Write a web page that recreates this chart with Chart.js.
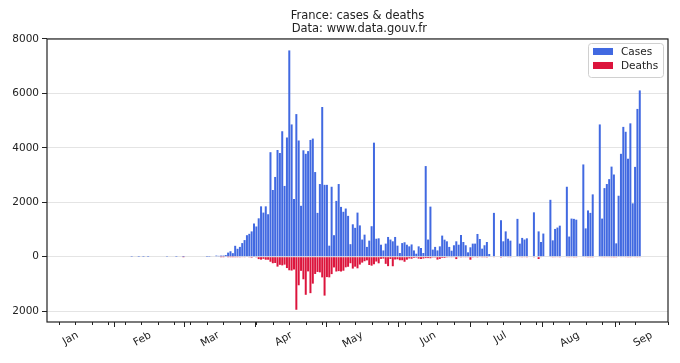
<!DOCTYPE html>
<html>
<head>
<meta charset="utf-8">
<script src="https://cdn.jsdelivr.net/npm/chart.js@4.4.0/dist/chart.umd.min.js"></script>
<style>
html,body{margin:0;padding:0;background:#fff;}
</style>
</head>
<body>
<canvas id="chart" width="680" height="363"></canvas>
<script>
// day 0 = 1 Jan 2020
var MONTHS = ['Jan','Feb','Mar','Apr','May','Jun','Jul','Aug','Sep'];
var MONTH_START = [0,31,60,91,121,152,182,213,244];
var Y_TICKS = [-2000,0,2000,4000,6000,8000];

// daily new cases, one array per month (null = no report)
var casesJan = [0,0,0,0,0,0,0,0,0,0,0,0,0,0,0,0,0,0,0,0,0,0,0,3,0,0,1,0,1,0,1];
var casesFeb = [0,0,0,0,0,0,0,5,0,0,0,1,0,0,1,0,0,0,0,0,0,0,0,0,2,4,20,19,40];
var casesMar = [30,40,40,60,150,200,130,400,290,360,500,610,790,840,930,1220,1110,1410,1850,1620,1850,1560,3840,2450,2930,3920,3810,4610,2600,4380,7580];
var casesApr = [4860,2120,5240,4270,1870,3910,3780,3880,4290,4340,3110,1610,2670,5500,2640,2640,405,2570,790,2050,2670,1830,1650,1770,1500,460,1190,1060,1620,1150];
var casesMay = [630,810,360,590,1120,4190,660,675,440,230,480,725,630,565,725,405,135,500,530,440,380,450,230,110,380,320,135,3330,630,1840,260];
var casesJun = [360,230,380,775,625,565,360,220,420,565,440,800,540,420,160,345,480,480,835,650,295,420,540,100,null,1610,null,null,1340,565];
var casesJul = [930,660,590,null,null,1390,480,690,630,675,null,null,1630,null,930,540,850,null,null,2090,600,1020,1070,1140,null,null,2570,740,1400,1390,1360];
var casesAug = [null,null,3390,1040,1700,1610,2290,null,null,4860,1400,2520,2670,2850,3310,3020,490,2240,3780,4770,4590,3600,4900,1960,3300,5430,6110];

// daily deaths
var deathsJan = [0,0,0,0,0,0,0,0,0,0,0,0,0,0,0,0,0,0,0,0,0,0,0,0,0,0,0,0,0,0,0];
var deathsFeb = [0,0,0,0,0,0,0,0,0,0,0,0,0,0,1,0,0,0,0,0,0,0,0,0,0,0,0,0,0];
var deathsMar = [0,1,1,0,2,3,2,8,6,11,15,13,18,12,36,21,27,89,108,78,112,112,186,240,231,365,299,319,292,418,499];
var deathsApr = [509,471,1950,1050,520,830,1400,540,1340,990,635,560,575,760,1430,750,760,640,395,545,530,545,515,390,370,240,437,367,427,289];
var deathsMay = [218,166,135,306,330,278,178,243,80,70,263,348,83,351,104,96,130,131,186,110,65,74,43,35,70,83,66,52,52,57,31];
var deathsJun = [31,107,81,44,46,27,13,9,23,87,23,28,24,10,12,111,28,14,29,21,9,9,29,18,null,14,null,null,30,20];
var deathsJul = [18,14,25,null,null,20,15,12,14,10,null,null,25,null,85,15,18,null,null,20,12,14,15,10,null,null,14,12,15,11,12];
var deathsAug = [null,null,20,15,12,10,10,null,null,20,15,12,15,14,10,8,25,18,15,16,14,12,10,20,15,12,14];

var casesByMonth = [casesJan,casesFeb,casesMar,casesApr,casesMay,casesJun,casesJul,casesAug];
var deathsByMonth = [deathsJan,deathsFeb,deathsMar,deathsApr,deathsMay,deathsJun,deathsJul,deathsAug];

function toPoints(months, sign){
	var pts = [];
	for (var m = 0; m < months.length; m++){
		for (var i = 0; i < months[m].length; i++){
			var v = months[m][i];
			pts.push({x: MONTH_START[m] + i, y: v === null ? null : sign * v});
		}
	}
	return pts;
}

Chart.defaults.font.family = 'DejaVu Sans';
Chart.defaults.font.size = 10;
Chart.defaults.color = '#222';

// weekly minor ticks (tuesdays) + frame + legend
var decor = {
	id: 'decor',
	afterDraw: function(chart){
		var ctx = chart.ctx, a = chart.chartArea, x = chart.scales.x;
		ctx.save();
		ctx.strokeStyle = '#222';
		ctx.lineWidth = 1;
		for (var d = -8; d <= x.max; d += 7){
			if (MONTH_START.indexOf(d) >= 0 || d < x.min) continue;
			var px = Math.round(x.getPixelForValue(d)) + 0.5;
			ctx.beginPath();
			ctx.moveTo(px, a.bottom);
			ctx.lineTo(px, a.bottom + 3);
			ctx.stroke();
		}
		ctx.lineWidth = 1.2;
		ctx.strokeRect(a.left, a.top, a.right - a.left, a.bottom - a.top);

		// legend box
		var bw = 75, bh = 34, bx = a.right - 5 - bw, by = a.top + 4;
		ctx.beginPath();
		ctx.roundRect(bx + 0.5, by + 0.5, bw, bh, 3);
		ctx.fillStyle = 'rgba(255,255,255,0.8)';
		ctx.fill();
		ctx.strokeStyle = '#d0d0d0';
		ctx.lineWidth = 1;
		ctx.stroke();
		ctx.font = '10.5px "DejaVu Sans"';
		ctx.textBaseline = 'middle';
		chart.data.datasets.forEach(function(ds, i){
			var ry = by + 5 + i * 14;
			ctx.fillStyle = ds.backgroundColor;
			ctx.fillRect(bx + 5, ry, 20, 7);
			ctx.fillStyle = '#222';
			ctx.fillText(ds.label, bx + 33, ry + 4);
		});
		ctx.restore();
	}
};

new Chart(document.getElementById('chart'), {
	type: 'bar',
	data: {
		datasets: [{
			label: 'Cases',
			data: toPoints(casesByMonth, 1),
			backgroundColor: '#4169e1',
			grouped: false,
			barPercentage: 0.85,
			categoryPercentage: 1.0
		},{
			label: 'Deaths',
			data: toPoints(deathsByMonth, -1),
			backgroundColor: '#dc143c',
			grouped: false,
			barPercentage: 0.85,
			categoryPercentage: 1.0
		}]
	},
	options: {
		responsive: false,
		animation: false,
		events: [],
		layout: {padding: {top: 10, right: 12, left: 0, bottom: 0}},
		plugins: {
			legend: {display: false},
			tooltip: {enabled: false},
			title: {
				display: true,
				fullSize: false,
				text: ['France: cases & deaths', ' Data: www.data.gouv.fr'],
				font: {size: 11.5, weight: 'normal', lineHeight: 1.13},
				color: '#222',
				padding: {top: 0, bottom: 3}
			}
		},
		scales: {
			x: {
				type: 'linear',
				offset: false,
				min: -13,
				max: 251,
				afterBuildTicks: function(scale){
					scale.ticks = MONTH_START.map(function(v){ return {value: v}; });
				},
				afterFit: function(scale){ scale.height = 41; },
				ticks: {
					autoSkip: false,
					minRotation: 30,
					maxRotation: 30,
					padding: 2,
					font: {size: 10.5},
					callback: function(value, index){ return MONTHS[index]; }
				},
				grid: {drawOnChartArea: false, tickLength: 5, tickColor: '#222', tickWidth: 1},
				border: {display: false}
			},
			y: {
				min: -2400,
				max: 8000,
				z: 1,
				afterBuildTicks: function(scale){
					scale.ticks = Y_TICKS.map(function(v){ return {value: v}; });
				},
				afterFit: function(scale){ scale.width = 47; },
				ticks: {
					padding: 3,
					font: {size: 10.5},
					callback: function(value){ return String(Math.abs(value)); }
				},
				grid: {color: 'rgba(205,205,205,0.55)', lineWidth: 1, tickLength: 5, tickColor: '#222'},
				border: {display: false}
			}
		}
	},
	plugins: [decor]
});
</script>
</body>
</html>
